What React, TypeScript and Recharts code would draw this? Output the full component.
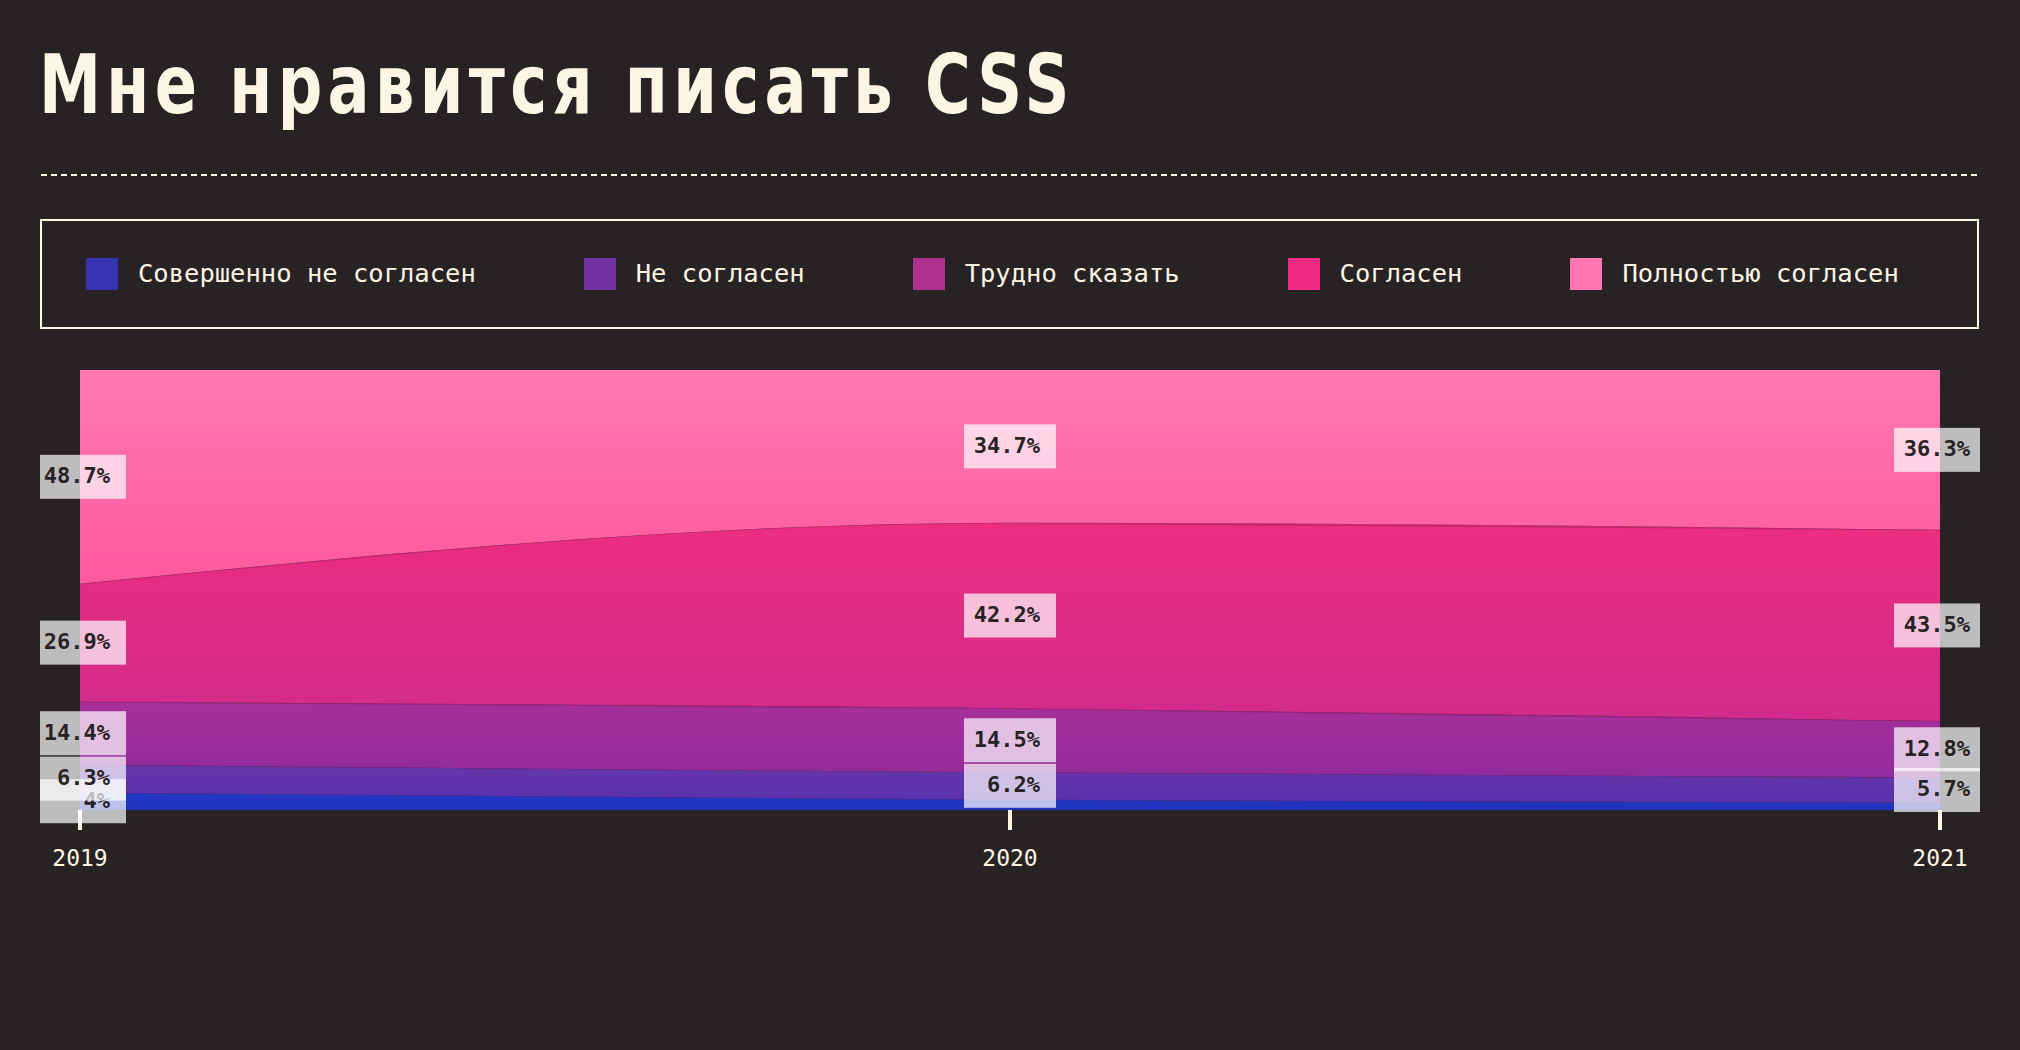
import { Area, AreaChart, LabelList, XAxis, YAxis } from 'recharts';

const years = ['2019', '2020', '2021'];
const stronglyDisagree = [4, 2.4, 1.7];
const disagree = [6.3, 6.2, 5.7];
const neutral = [14.4, 14.5, 12.8];
const agree = [26.9, 42.2, 43.5];
const stronglyAgree = [48.7, 34.7, 36.3];
// у нижнего слоя подписан только 2019
const stronglyDisagreeLabels = ['4%', null, null];

const BG = '#272324';
const CREAM = '#fff5e4';
const MONO = '"DejaVu Sans Mono", monospace';
const PLOT_H = 440;

const series = [
  { key: 'sd', name: 'Совершенно не согласен', values: stronglyDisagree, labels: stronglyDisagreeLabels, legend: '#3634b5', top: '#2437c6', bottom: '#1f33bd' },
  { key: 'd', name: 'Не согласен', values: disagree, legend: '#7131a0', top: '#6536a8', bottom: '#5a32ae' },
  { key: 'n', name: 'Трудно сказать', values: neutral, legend: '#b0308f', top: '#a7309a', bottom: '#912b9b' },
  { key: 'a', name: 'Согласен', values: agree, legend: '#ee2a82', top: '#ec2e80', bottom: '#d22b8b' },
  { key: 'sa', name: 'Полностью согласен', values: stronglyAgree, legend: '#ff77b0', top: '#ff79ae', bottom: '#fd599e' },
];

const totals = years.map((_, i) => series.reduce((sum, s) => sum + s.values[i], 0));

const table = years.map((year, i) => {
  const row: Record<string, string | number> = { year };
  series.forEach((s) => {
    row[s.key] = s.values[i];
    row['l_' + s.key] = s.values[i];
  });
  return row;
});

function PctLabel(props: any) {
  const { s, index } = props;
  const x = props.viewBox?.x ?? props.x;
  const y = props.viewBox?.y ?? props.y;
  const text = s.labels ? s.labels[index] : `${s.values[index]}%`;
  if (!text || x == null || y == null) return null;
  const v = props.value;
  const share = Array.isArray(v) ? v[1] - v[0] : s.values[index] / totals[index];
  const cy = y + (share * PLOT_H) / 2;
  const left = Math.max(40, x - 46);
  const right = Math.min(1980, x + 46);
  return (
    <g>
      <rect x={left} y={cy - 22} width={right - left} height={44} fill="#ffffff" fillOpacity={0.7} />
      <text x={x + 30} y={cy - 1} textAnchor="end" dominantBaseline="central" fill={BG} fontFamily={MONO} fontWeight={700} fontSize={22}>
        {text}
      </text>
    </g>
  );
}

export default function App() {
  return (
    <div style={{ position: 'absolute', left: 0, top: 0, width: 2020, height: 1050, background: BG, overflow: 'hidden' }}>
      <div
        style={{
          position: 'absolute', left: 39, top: 35, color: CREAM, fontFamily: '"DejaVu Sans", sans-serif',
          fontWeight: 700, fontSize: 82, lineHeight: '100px', letterSpacing: 7, whiteSpace: 'nowrap',
          transform: 'scaleX(0.76)', transformOrigin: 'left top',
        }}
      >
        Мне нравится писать CSS
      </div>

      <svg style={{ position: 'absolute', left: 0, top: 170 }} width={2020} height={10}>
        <line x1={41} x2={1979} y1={5} y2={5} stroke={CREAM} strokeWidth={2} strokeDasharray="6 4" />
      </svg>

      <div
        style={{
          position: 'absolute', left: 40, top: 219, width: 1939, height: 110, boxSizing: 'border-box',
          border: `2px solid ${CREAM}`, display: 'flex', alignItems: 'center', paddingLeft: 44, gap: 108,
        }}
      >
        {series.map((s) => (
          <div key={s.key} style={{ display: 'flex', alignItems: 'center' }}>
            <div style={{ width: 32, height: 32, background: s.legend, marginRight: 20 }} />
            <span style={{ color: CREAM, fontFamily: MONO, fontSize: 25.5, whiteSpace: 'nowrap', marginTop: -2 }}>{s.name}</span>
          </div>
        ))}
      </div>

      <div style={{ position: 'absolute', left: 0, top: 340 }}>
        <AreaChart width={2020} height={560} data={table} stackOffset="expand" margin={{ top: 30, right: 80, bottom: 30, left: 80 }}>
          <defs>
            {series.map((s) => (
              <linearGradient key={s.key} id={'g_' + s.key} x1="0" y1="0" x2="0" y2="1">
                <stop offset="0%" stopColor={s.top} />
                <stop offset="100%" stopColor={s.bottom} />
              </linearGradient>
            ))}
          </defs>
          <XAxis
            dataKey="year"
            height={60}
            axisLine={false}
            tickSize={20}
            tickMargin={20}
            interval={0}
            tickLine={{ stroke: CREAM, strokeWidth: 4 }}
            tick={{ fill: CREAM, fontSize: 23, fontFamily: MONO }}
          />
          <YAxis hide />
          {series.map((s, i) => (
            <Area
              key={s.key}
              type="monotone"
              dataKey={s.key}
              name={s.name}
              stackId="main"
              fill={`url(#g_${s.key})`}
              fillOpacity={1}
              stroke={i === series.length - 1 ? 'none' : 'rgba(110,20,70,0.35)'}
              strokeWidth={1.5}
              dot={false}
              activeDot={false}
              isAnimationActive={false}
            />
          ))}
          {series.map((s) => (
            <Area
              key={'l_' + s.key}
              type="monotone"
              dataKey={'l_' + s.key}
              stackId="labels"
              fill="none"
              stroke="none"
              dot={false}
              activeDot={false}
              isAnimationActive={false}
            >
              <LabelList valueAccessor={(e: any) => e.value} content={(p: any) => <PctLabel {...p} s={s} />} />
            </Area>
          ))}
        </AreaChart>
      </div>
    </div>
  );
}
